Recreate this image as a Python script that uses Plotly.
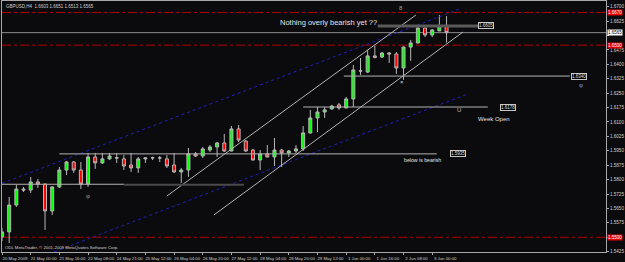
import plotly.graph_objects as go

# ---------------- data ----------------
bars = list(range(63))
opens = [1.5502, 1.5528, 1.5668, 1.5751, 1.5746, 1.5788, 1.5777, 1.5637, 1.5762, 1.5850,
         1.5892, 1.5850, 1.5777, 1.5918, 1.5887, 1.5908, 1.5912, 1.5908, 1.5876, 1.5861,
         1.5908, 1.5913, 1.5913, 1.5908, 1.5876, 1.5840, 1.5850, 1.5934, 1.5923, 1.5954,
         1.5970, 1.5991, 1.5949, 1.6064, 1.6001, 1.5954, 1.5902, 1.5934, 1.5918, 1.5954,
         1.5939, 1.5949, 1.5960, 1.6043, 1.6121, 1.6152, 1.6168, 1.6189, 1.6173, 1.6220,
         1.6365, 1.6360, 1.6444, 1.6438, 1.6459, 1.6454, 1.6381, 1.6490, 1.6511, 1.6589,
         1.6553, 1.6574, 1.6603]
highs = [1.5548, 1.5710, 1.5772, 1.5762, 1.5814, 1.5803, 1.5780, 1.5765, 1.5866, 1.5897,
         1.5897, 1.5892, 1.5939, 1.5939, 1.5939, 1.5939, 1.5939, 1.5928, 1.5939, 1.5918,
         1.5918, 1.5920, 1.5923, 1.5928, 1.5939, 1.5861, 1.5965, 1.5944, 1.5970, 1.5980,
         1.5996, 1.6038, 1.6079, 1.6084, 1.6006, 1.5960, 1.5954, 1.5980, 1.6017, 1.5960,
         1.5954, 1.5980, 1.6079, 1.6163, 1.6178, 1.6178, 1.6189, 1.6199, 1.6230, 1.6397,
         1.6433, 1.6475, 1.6496, 1.6464, 1.6464, 1.6464, 1.6492, 1.6527, 1.6594, 1.6592,
         1.6584, 1.6657, 1.6651]
lows = [1.5481, 1.5470, 1.5658, 1.5736, 1.5731, 1.5757, 1.5538, 1.5616, 1.5757, 1.5824,
        1.5835, 1.5751, 1.5762, 1.5856, 1.5882, 1.5902, 1.5887, 1.5850, 1.5840, 1.5835,
        1.5887, 1.5902, 1.5892, 1.5861, 1.5835, 1.5783, 1.5814, 1.5918, 1.5913, 1.5944,
        1.5918, 1.5944, 1.5947, 1.5996, 1.5944, 1.5900, 1.5850, 1.5916, 1.5871, 1.5866,
        1.5918, 1.5939, 1.5949, 1.6040, 1.6048, 1.6121, 1.6163, 1.6163, 1.6172, 1.6178,
        1.6345, 1.6355, 1.6431, 1.6433, 1.6407, 1.6350, 1.6319, 1.6418, 1.6510, 1.6542,
        1.6542, 1.6573, 1.6513]
closes = [1.5528, 1.5668, 1.5751, 1.5746, 1.5788, 1.5777, 1.5637, 1.5762, 1.5850, 1.5892,
          1.5850, 1.5777, 1.5918, 1.5887, 1.5908, 1.5923, 1.5914, 1.5871, 1.5861, 1.5908,
          1.5913, 1.5914, 1.5913, 1.5871, 1.5840, 1.5850, 1.5934, 1.5923, 1.5960, 1.5970,
          1.5991, 1.5949, 1.6064, 1.6006, 1.5949, 1.5902, 1.5934, 1.5918, 1.5954, 1.5939,
          1.5949, 1.5960, 1.6043, 1.6121, 1.6152, 1.6163, 1.6183, 1.6173, 1.6220, 1.6371,
          1.6366, 1.6444, 1.6436, 1.6459, 1.6454, 1.6381, 1.6490, 1.6511, 1.6589, 1.6553,
          1.6579, 1.6600, 1.6565]

x_tick_bars = [0, 4, 8, 12, 16, 20, 24, 28, 32, 36, 40, 44, 48, 52, 56, 60]
x_tick_labels = ["20 May 2009", "21 May 00:00", "21 May 16:00", "22 May 08:00", "24 May 21:00",
                 "25 May 12:00", "26 May 04:00", "26 May 20:00", "27 May 12:00", "28 May 04:00",
                 "28 May 20:00", "29 May 12:00", "1 Jun 00:00", "1 Jun 16:00", "2 Jun 08:00",
                 "3 Jun 00:00"]
y_tick_values = [1.5425, 1.5500, 1.5575, 1.5650, 1.5725, 1.5800, 1.5875, 1.5950, 1.6025,
                 1.6100, 1.6175, 1.6250, 1.6325, 1.6400, 1.6475, 1.6550, 1.6625, 1.6700]

red_levels = [1.6670, 1.6500, 1.5500]
bid_price = 1.6565

# trend lines: (bar0, price0, bar1, price1)
blue_channel = [(0.0, 1.5781, 63.72, 1.66865), (7.25, 1.5424, 64.70, 1.6242)]
grey_channel = [(23.0, 1.5715, 57.73, 1.6657), (29.55, 1.5616, 64.28, 1.6568)]

# horizontal level objects: (bar_start, bar_end, price, label)
level_lines = [(52.4, 66.4, 1.6600, "1.6605"),
               (47.67, 79.2, 1.6339, "1.6340"),
               (42.0, 67.76, 1.6178, "1.6178"),
               (8.0, 60.64, 1.5934, "1.5935")]
support_light = (0.0, 17.0, 1.5776)
support_dark = (17.0, 33.74, 1.5776)

# ---------------- figure ----------------
BG = "#0b0b0d"
AX = "#a8a8a8"
TXT = "#d0d0d0"
FONT = "Liberation Sans"

fig = go.Figure()
fig.add_trace(go.Candlestick(
    x=bars, open=opens, high=highs, low=lows, close=closes,
    increasing=dict(fillcolor="#00ff00", line=dict(color="#b8b8b8", width=1)),
    decreasing=dict(fillcolor="#ff0000", line=dict(color="#b8b8b8", width=1)),
    whiskerwidth=0, hoverinfo="skip", showlegend=False,
))

shapes = []
for lv in red_levels:
    shapes.append(dict(type="line", xref="paper", x0=0, x1=1, yref="y", y0=lv, y1=lv,
                       line=dict(color="#b00000", width=1, dash="dashdot"), layer="below"))
shapes.append(dict(type="line", xref="paper", x0=0, x1=1, yref="y", y0=bid_price, y1=bid_price,
                   line=dict(color="#8c8c8c", width=1), layer="below"))
for (a0, p0, a1, p1) in blue_channel:
    shapes.append(dict(type="line", x0=a0, y0=p0, x1=a1, y1=p1,
                       line=dict(color="#1f1fc0", width=1, dash="dot")))
for (a0, p0, a1, p1) in grey_channel:
    shapes.append(dict(type="line", x0=a0, y0=p0, x1=a1, y1=p1,
                       line=dict(color="#b4b4b4", width=1)))
for i, (a0, a1, p, lab) in enumerate(level_lines):
    shapes.append(dict(type="line", x0=a0, y0=p, x1=a1, y1=p,
                       line=dict(color="#5a5a5a" if i == 0 else "#b4b4b4", width=3 if i == 0 else 1)))
shapes.append(dict(type="line", x0=support_light[0], x1=support_light[1], y0=support_light[2],
                   y1=support_light[2], line=dict(color="#b4b4b4", width=1)))
shapes.append(dict(type="line", x0=support_dark[0], x1=support_dark[1], y0=support_dark[2] - 0.0002,
                   y1=support_dark[2] - 0.0002, line=dict(color="#4a4a4a", width=2)))

annotations = []
box_pos = [66.4, 79.3, 69.4, 62.5]
for (a0, a1, p, lab), bx in zip(level_lines, box_pos):
    annotations.append(dict(x=bx, y=p, xref="x", yref="y", text=lab, showarrow=False,
                            xanchor="left", font=dict(family=FONT, size=4.5, color="#e0e0e0"),
                            bgcolor="#000000", bordercolor="#c8c8c8", borderwidth=1, borderpad=0))
texts = [(45.6, 1.6620, "Nothing overly bearish yet ??", 7.5),
         (68.6, 1.6116, "Week Open", 6),
         (58.7, 1.5902, "below is bearish", 5.2)]
for (bx, p, t, s) in texts:
    annotations.append(dict(x=bx, y=p, text=t, showarrow=False,
                            font=dict(family=FONT, size=s, color="#e4e4e4")))
symbols = [(63.7, 1.6162, "U", "#c0c0c0"), (12.0, 1.5715, "φ", "#a0a0a0"),
           (80.7, 1.6293, "φ", "#8aa0c0"), (55.6, 1.6693, "8", "#a0a0a0"),
           (55.8, 1.6308, "×", "#e0e0e0")]
for (bx, p, t, c) in symbols:
    annotations.append(dict(x=bx, y=p, text=t, showarrow=False,
                            font=dict(family=FONT, size=6, color=c)))
for lv in red_levels:
    annotations.append(dict(x=1, y=lv, xref="paper", yref="y", xanchor="left", xshift=1,
                            text=f"{lv:.4f}", showarrow=False, bgcolor="#e00000",
                            font=dict(family=FONT, size=4.5, color="#ffffff"), borderpad=0))
annotations.append(dict(x=1, y=bid_price, xref="paper", yref="y", xanchor="left", xshift=1,
                        text=f"{bid_price:.4f}", showarrow=False, bgcolor="#ffffff",
                        font=dict(family=FONT, size=4.5, color="#000000"), borderpad=0))
annotations.append(dict(x=0, y=1, xref="paper", yref="paper", xanchor="left", yanchor="top",
                        xshift=2, yshift=-1,
                        text=f"GBPUSD,H4  {opens[-1]:.4f} {highs[-1]:.4f} {lows[-1]:.4f} {closes[-1]:.4f}",
                        showarrow=False, font=dict(family=FONT, size=4.5, color=TXT)))
annotations.append(dict(x=0, y=0, xref="paper", yref="paper", xanchor="left", yanchor="bottom",
                        xshift=1, yshift=0,
                        text="ODL MetaTrader, © 2001-2009 MetaQuotes Software Corp.",
                        showarrow=False, font=dict(family=FONT, size=4.3, color=TXT)))

hidden = {1.5500, 1.6550}
y_tick_text = ["" if v in hidden else f"{v:.4f}" for v in y_tick_values]

fig.update_layout(
    width=625, height=262,
    margin=dict(l=2, r=19, t=1, b=10),
    paper_bgcolor=BG, plot_bgcolor=BG,
    boxgap=0.4,
    shapes=shapes, annotations=annotations,
    font=dict(family=FONT, size=5, color=TXT),
    xaxis=dict(range=[-0.001, 84.24], rangeslider=dict(visible=False), showgrid=False,
               zeroline=False, tickvals=x_tick_bars, ticktext=x_tick_labels, tickangle=0,
               ticks="outside", ticklen=2, tickcolor=AX, showline=True, mirror=True,
               linecolor=AX, linewidth=1, tickfont=dict(family=FONT, size=4.3, color=TXT),
               ticklabelshift=13, ticklabelstandoff=0),
    yaxis=dict(range=[1.54234, 1.67297], side="right", showgrid=False, zeroline=False,
               tickvals=y_tick_values, ticktext=y_tick_text,
               ticks="outside", ticklen=2, tickcolor=AX, showline=True, mirror=True,
               linecolor=AX, linewidth=1, tickfont=dict(family=FONT, size=4.6, color=TXT),
               ticklabelstandoff=0),
)

fig.write_html("out.html")
